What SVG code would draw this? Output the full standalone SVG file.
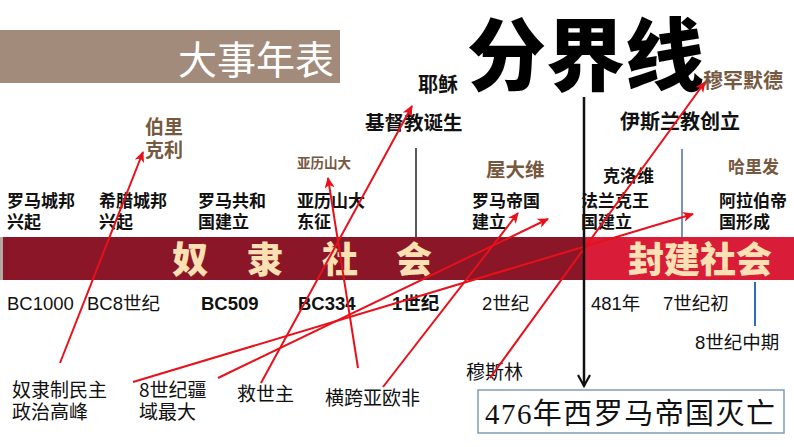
<svg xmlns="http://www.w3.org/2000/svg" width="794" height="447" viewBox="0 0 794 447">
<style>
.b{font-family:"Noto Sans CJK SC","Liberation Sans",sans-serif;font-weight:bold;fill:#111}
.n{font-family:"Liberation Sans","Noto Sans CJK SC",sans-serif;fill:#111}
.br{font-family:"Noto Sans CJK SC",sans-serif;font-weight:bold;fill:#76593f}
.lbl{font-size:17px}
.yr{font-size:18.5px}
.yb{font-size:18.5px;font-weight:bold}
.bot{font-family:"Noto Sans CJK SC",sans-serif;font-size:19px;fill:#111}
.band{font-family:"Noto Sans CJK SC",sans-serif;font-weight:900;font-size:36px;fill:#fbe0b4}
.red{stroke:#e8101a;stroke-width:2;fill:none;marker-end:url(#ra)}
</style>
<defs>
<marker id="ra" markerUnits="userSpaceOnUse" markerWidth="12" markerHeight="10" refX="10" refY="5" orient="auto">
<path d="M0,0 L11,5 L0,10 L3,5 z" fill="#e8101a"/>
</marker>
<marker id="ba" markerUnits="userSpaceOnUse" markerWidth="14" markerHeight="14" refX="12" refY="7" orient="auto">
<path d="M1,1 L12,7 L1,13" fill="none" stroke="#111" stroke-width="2.2"/>
</marker>
</defs>
<rect width="794" height="447" fill="#fff"/>

<g id="title">
<rect x="0" y="30" width="340" height="53" fill="#a38b7b"/>
<text x="178" y="74" font-family="Noto Sans CJK SC,sans-serif" font-size="39" fill="#fff">大事年表</text>
</g>

<g id="divider-title">
<text x="467" y="85" font-family="Noto Sans CJK SC,sans-serif" font-weight="900" font-size="79" fill="#000">分界线</text>
</g>

<g id="band">
<rect x="0" y="237" width="584" height="43" fill="#8a1628"/>
<rect x="584" y="237" width="210" height="43" fill="#d91c38"/>
<rect x="0" y="237" width="3" height="43" fill="#b3aaa2"/>
<text class="band" x="172" y="273">奴</text>
<text class="band" x="247" y="273">隶</text>
<text class="band" x="322" y="273">社</text>
<text class="band" x="396" y="273">会</text>
<text class="band" x="628" y="273">封建社会</text>
</g>

<g id="events">
<text class="b lbl" x="7" y="207">罗马城邦</text><text class="b lbl" x="7" y="228">兴起</text>
<text class="b lbl" x="99" y="207">希腊城邦</text><text class="b lbl" x="99" y="228">兴起</text>
<text class="b lbl" x="198" y="207">罗马共和</text><text class="b lbl" x="198" y="228">国建立</text>
<text class="b lbl" x="297" y="207">亚历山大</text><text class="b lbl" x="297" y="228">东征</text>
<text class="b lbl" x="472" y="207">罗马帝国</text><text class="b lbl" x="472" y="228">建立</text>
<text class="b lbl" x="581" y="207">法兰克王</text><text class="b lbl" x="581" y="228">国建立</text>
<text class="b lbl" x="719" y="207">阿拉伯帝</text><text class="b lbl" x="719" y="228">国形成</text>
</g>

<g id="upper">
<text class="b" x="418" y="92" font-size="20">耶稣</text>
<text class="br" x="703" y="88" font-size="20">穆罕默德</text>
<text class="b" x="365" y="130" font-size="19.5">基督教诞生</text>
<text class="b" x="620" y="129" font-size="20">伊斯兰教创立</text>
<text class="br" x="145" y="134" font-size="19">伯里</text>
<text class="br" x="145" y="157" font-size="19">克利</text>
<text class="br" x="297" y="168" font-size="13.5">亚历山大</text>
<text class="br" x="486" y="177" font-size="19.5">屋大维</text>
<text class="b" x="603" y="182" font-size="17">克洛维</text>
<text class="br" x="728" y="173" font-size="17">哈里发</text>
</g>

<g id="years">
<text class="n yr" x="7" y="310">BC1000</text>
<text class="n yr" x="87" y="310">BC8世纪</text>
<text class="n yb" x="201" y="310">BC509</text>
<text class="n yb" x="298" y="310">BC334</text>
<text class="n yb" x="392" y="310">1世纪</text>
<text class="n yr" x="482" y="310">2世纪</text>
<text class="n yr" x="591" y="310">481年</text>
<text class="n yr" x="663" y="310">7世纪初</text>
<text class="n yr" x="695" y="349">8世纪中期</text>
</g>

<g id="notes">
<text class="bot" x="12" y="397">奴隶制民主</text><text class="bot" x="12" y="419">政治高峰</text>
<text class="bot" x="139" y="397">8世纪疆</text><text class="bot" x="139" y="419">域最大</text>
<text class="bot" x="237" y="401">救世主</text>
<text class="bot" x="325" y="405">横跨亚欧非</text>
<text class="bot" x="466" y="379">穆斯林</text>
</g>

<g id="fall-box">
<rect x="478" y="390" width="306" height="43" fill="#fff" stroke="#7f9db9" stroke-width="1.5"/>
<text x="485" y="424" font-family="'Liberation Serif','Noto Sans CJK SC',serif" font-size="29" textLength="290" lengthAdjust="spacing" fill="#111">476年西罗马帝国灭亡</text>
</g>

<g id="connectors">
<line x1="416" y1="148" x2="416" y2="237" stroke="#222" stroke-width="1.5"/>
<line x1="682" y1="149" x2="682" y2="237" stroke="#4a6fa5" stroke-width="1.5"/>
<line x1="755" y1="282" x2="755" y2="326" stroke="#2e6db4" stroke-width="2"/>
<line x1="60" y1="363" x2="143" y2="152" class="red"/>
<line x1="133" y1="382" x2="693" y2="214" class="red"/>
<line x1="218" y1="378" x2="548" y2="219" class="red"/>
<line x1="261" y1="383" x2="412" y2="106" class="red"/>
<line x1="358" y1="368" x2="328" y2="178" class="red"/>
<line x1="383" y1="387" x2="518" y2="213" class="red"/>
<line x1="490" y1="378" x2="705" y2="82" class="red"/>
<line x1="584" y1="97" x2="584" y2="386" stroke="#111" stroke-width="2.5" marker-end="url(#ba)"/>
</g>
</svg>
